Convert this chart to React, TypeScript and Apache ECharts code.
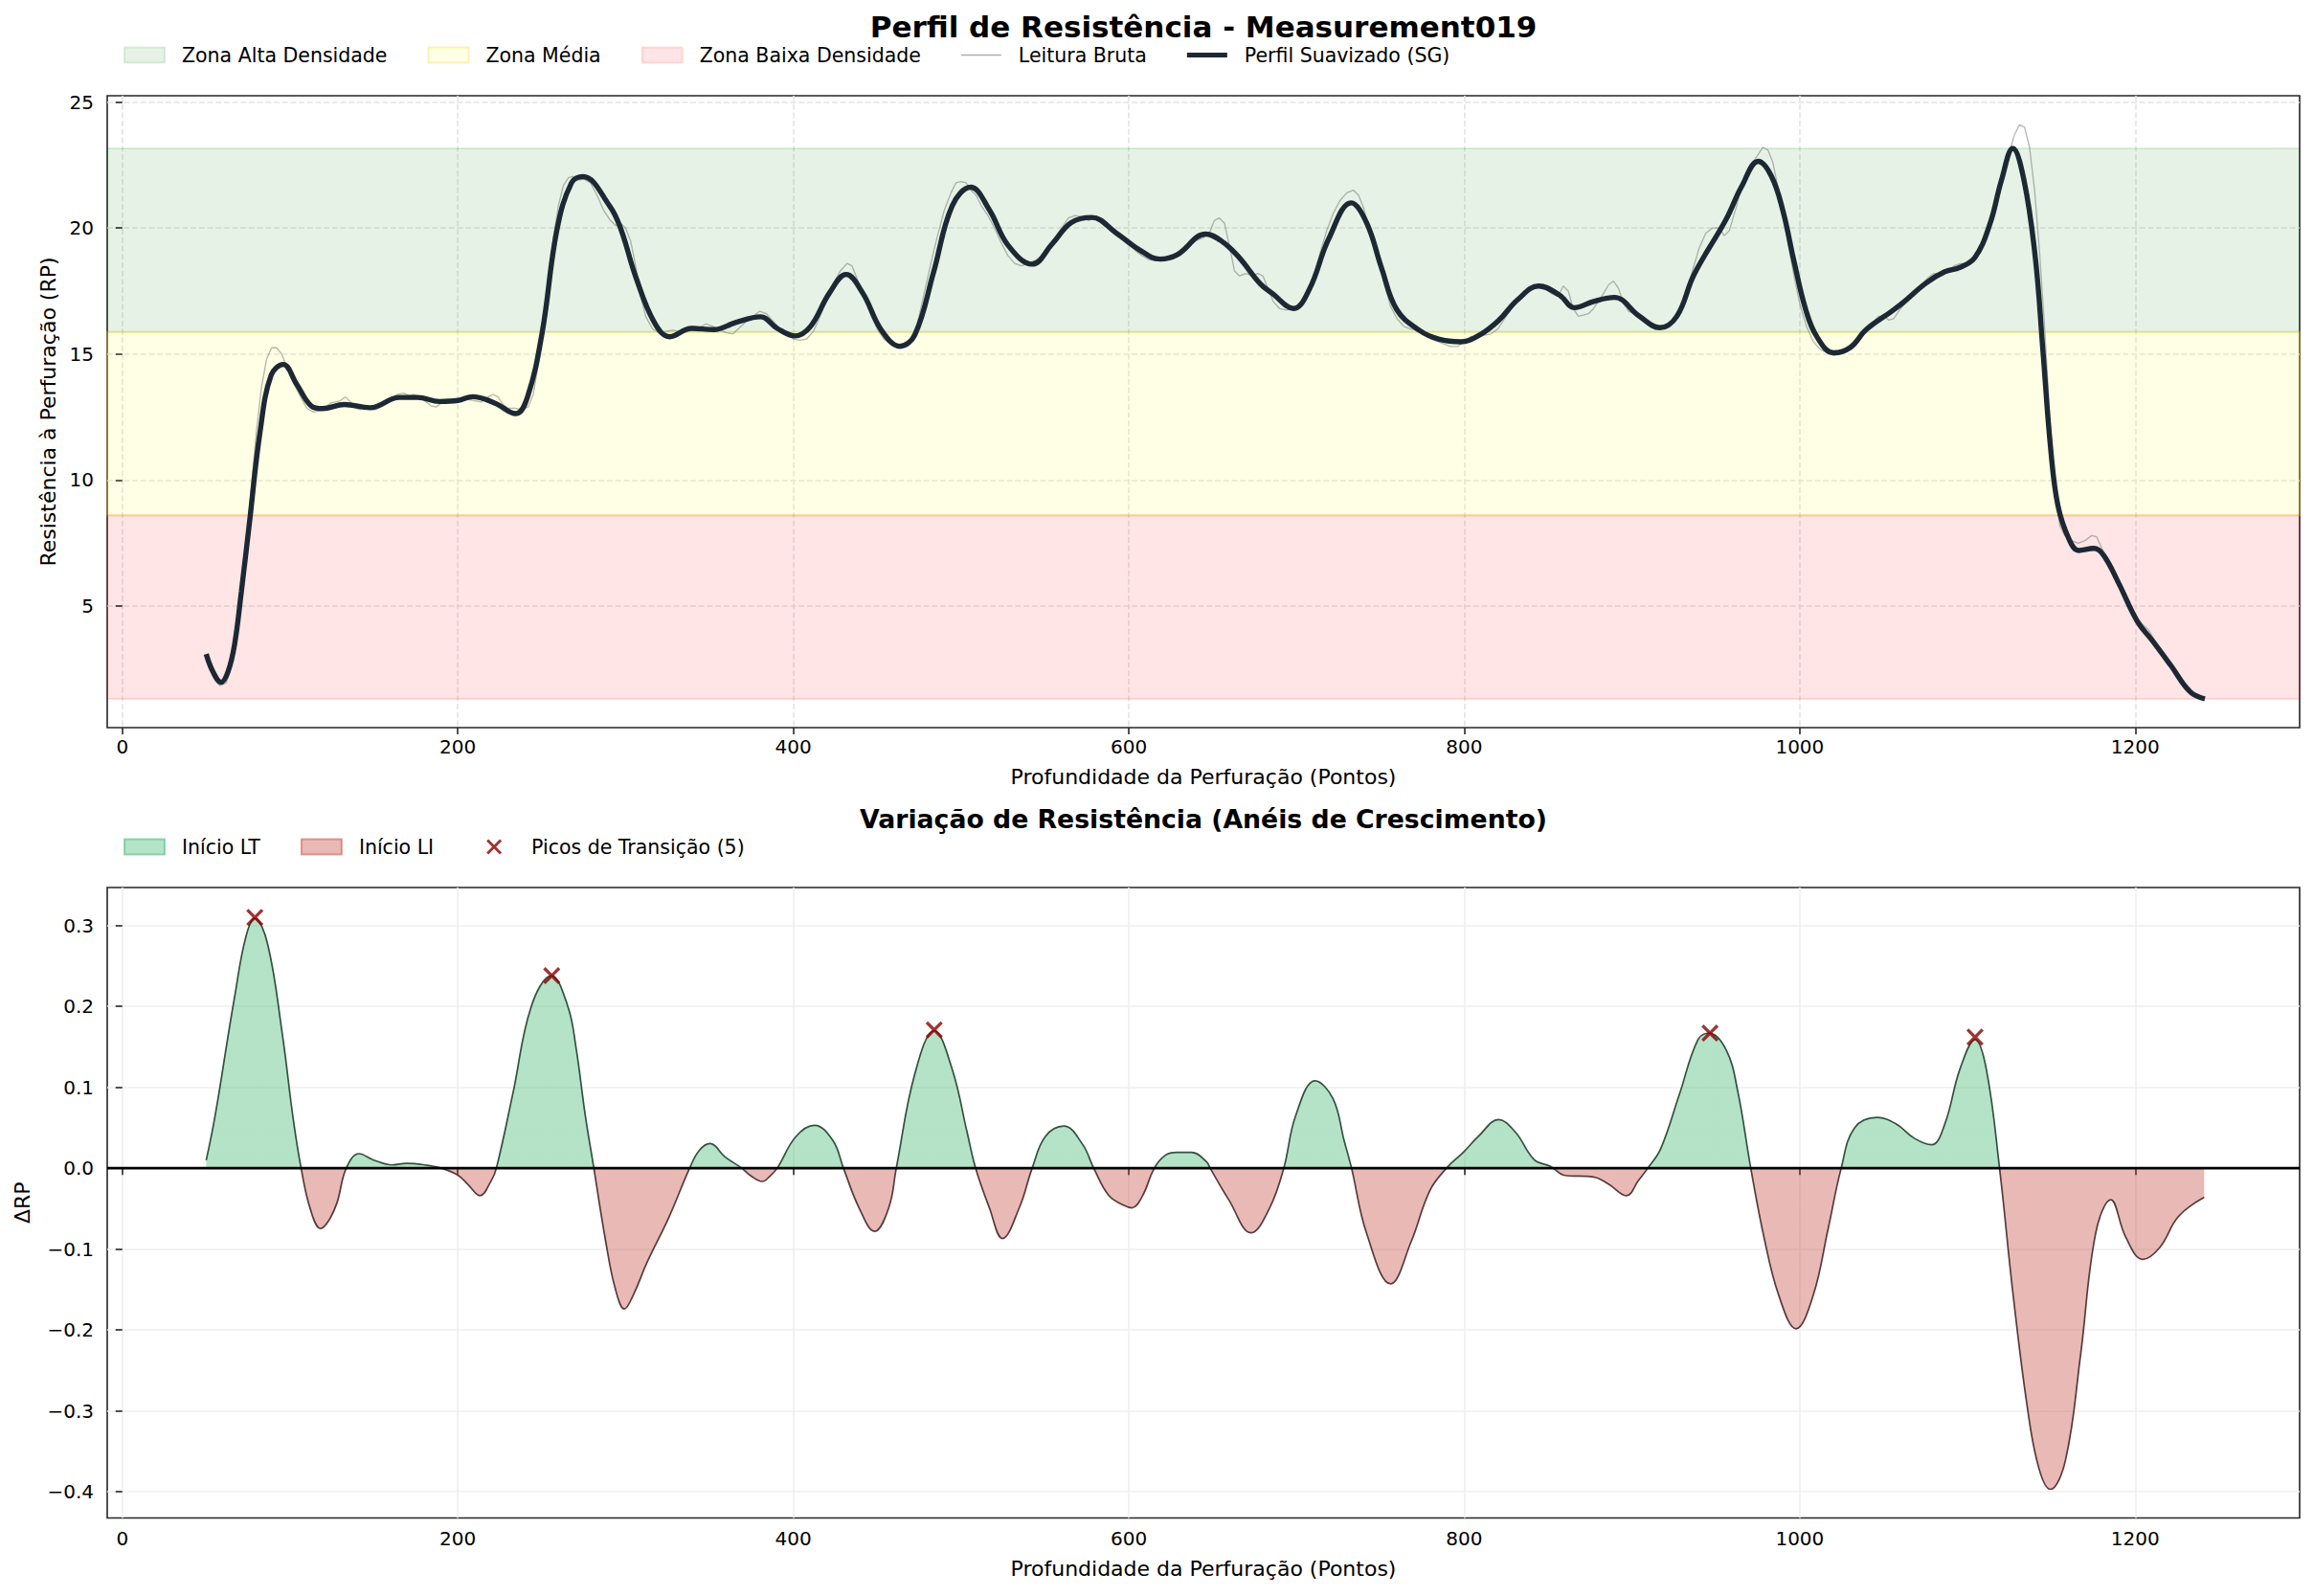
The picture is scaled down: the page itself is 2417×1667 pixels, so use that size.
import React, { useEffect, useRef } from "react";
import * as echarts from "echarts";

// ---------------- data ----------------
const mainTitle = "Perfil de Resistência - Measurement019";
const subTitle = "Variação de Resistência (Anéis de Crescimento)";
const xAxisName = "Profundidade da Perfuração (Pontos)";
const topYAxisName = "Resistência à Perfuração (RP)";
const bottomYAxisName = "ΔRP";

const xTicks = [0, 200, 400, 600, 800, 1000, 1200];
const topYTicks = [5, 10, 15, 20, 25];
const bottomYTicks = [-0.4, -0.3, -0.2, -0.1, 0.0, 0.1, 0.2, 0.3];

// zone boundaries: low / mid / high density
const zoneBounds = [1.32, 8.6, 15.88, 23.16];
const zoneNames = ["Zona Alta Densidade", "Zona Média", "Zona Baixa Densidade"];

const rawReading: [number, number][] = [
  [50, 3.0], [54, 2.2], [58, 1.85], [62, 1.95], [65, 2.6], [68, 3.6], [71, 5.2], [74, 7.4], [77, 9.8],
  [80, 12.0], [83, 13.7], [86, 14.8], [89, 15.25], [92, 15.25], [95, 15.0], [98, 14.5], [101, 14.0],
  [104, 13.6], [107, 13.2], [110, 12.85], [114, 12.7], [118, 12.75], [121, 12.9], [124, 13.05],
  [127, 13.1], [130, 13.15], [133, 13.3], [136, 13.1], [139, 12.85], [142, 12.8], [145, 12.9],
  [148, 12.85], [151, 12.8], [154, 12.9], [157, 13.0], [160, 13.1], [164, 13.4], [168, 13.45],
  [171, 13.35], [174, 13.4], [177, 13.3], [180, 13.15], [184, 12.95], [187, 12.9], [190, 13.05],
  [194, 13.2], [198, 13.15], [202, 13.25], [206, 13.2], [210, 13.15], [214, 13.1], [218, 13.3],
  [221, 13.4], [224, 13.3], [227, 13.0], [230, 12.85], [234, 12.85], [238, 12.8], [242, 12.9],
  [245, 13.4], [248, 14.6], [251, 16.0], [254, 17.8], [257, 19.6], [260, 20.9], [263, 21.7],
  [266, 22.0], [269, 22.05], [272, 21.9], [275, 21.95], [279, 21.8], [283, 21.3], [287, 20.7],
  [291, 20.3], [294, 20.1], [297, 20.2], [300, 20.0], [303, 19.5], [306, 18.5], [309, 17.3],
  [312, 16.5], [316, 16.0], [320, 15.85], [324, 15.9], [328, 15.95], [332, 15.9], [336, 16.0],
  [340, 16.1], [344, 16.05], [348, 16.2], [352, 16.1], [356, 15.95], [360, 15.85], [364, 15.8],
  [368, 16.05], [372, 16.3], [376, 16.5], [380, 16.7], [384, 16.6], [388, 16.3], [392, 16.0],
  [396, 15.85], [400, 15.6], [404, 15.55], [408, 15.6], [412, 15.9], [416, 16.5], [420, 17.2],
  [424, 17.8], [428, 18.3], [432, 18.6], [435, 18.5], [438, 18.0], [442, 17.3], [446, 16.6],
  [450, 16.0], [454, 15.6], [458, 15.4], [462, 15.35], [466, 15.4], [470, 15.6], [474, 16.2],
  [478, 17.4], [482, 18.6], [486, 19.7], [490, 20.7], [494, 21.4], [497, 21.8], [500, 21.85],
  [503, 21.8], [506, 21.5], [509, 21.3], [512, 20.9], [516, 20.5], [520, 20.0], [524, 19.4],
  [528, 18.9], [532, 18.6], [536, 18.5], [540, 18.6], [544, 18.7], [548, 18.9], [552, 19.3],
  [556, 19.6], [560, 20.0], [564, 20.4], [568, 20.5], [572, 20.45], [576, 20.3], [580, 20.45],
  [584, 20.3], [588, 20.1], [592, 19.9], [596, 19.6], [600, 19.4], [604, 19.1], [608, 18.9],
  [612, 18.75], [616, 18.7], [620, 18.7], [624, 18.8], [628, 18.85], [632, 19.0], [636, 19.3],
  [640, 19.5], [644, 19.6], [648, 19.8], [651, 20.3], [654, 20.4], [657, 20.2], [660, 19.3],
  [663, 18.3], [666, 18.1], [670, 18.2], [674, 18.1], [677, 18.2], [680, 18.1], [683, 17.6],
  [686, 17.1], [690, 16.8], [694, 16.75], [698, 16.8], [702, 16.9], [706, 17.2], [710, 18.0],
  [714, 19.0], [718, 19.9], [722, 20.6], [726, 21.1], [730, 21.4], [734, 21.5], [737, 21.3],
  [740, 20.8], [744, 19.8], [748, 18.9], [752, 17.9], [756, 16.9], [760, 16.4], [764, 16.1],
  [768, 16.0], [772, 15.95], [776, 15.8], [780, 15.6], [784, 15.5], [788, 15.4], [792, 15.3],
  [796, 15.3], [800, 15.5], [804, 15.7], [808, 15.7], [812, 15.75], [816, 15.8], [820, 16.0],
  [824, 16.4], [828, 16.8], [832, 17.2], [836, 17.5], [840, 17.7], [844, 17.75], [848, 17.6],
  [852, 17.4], [856, 17.3], [859, 17.7], [862, 17.5], [865, 16.8], [868, 16.5], [871, 16.55],
  [874, 16.6], [877, 16.8], [880, 17.1], [883, 17.4], [886, 17.75], [889, 17.9], [892, 17.6],
  [895, 17.0], [898, 16.7], [901, 16.6], [904, 16.55], [908, 16.4], [912, 16.2], [916, 16.0],
  [920, 16.0], [924, 16.2], [928, 16.5], [932, 17.3], [936, 18.3], [940, 19.2], [944, 19.8],
  [948, 20.0], [952, 20.0], [955, 19.7], [958, 19.9], [962, 20.8], [966, 21.8], [970, 22.4],
  [974, 22.8], [978, 23.2], [981, 23.1], [984, 22.6], [987, 21.6], [990, 20.5], [993, 19.4],
  [996, 18.3], [1000, 17.0], [1004, 16.1], [1008, 15.5], [1012, 15.2], [1016, 15.05], [1020, 14.95],
  [1024, 15.0], [1028, 15.2], [1032, 15.5], [1036, 15.8], [1040, 16.1], [1044, 16.3], [1047, 16.5],
  [1050, 16.5], [1053, 16.35], [1056, 16.4], [1060, 16.8], [1064, 17.1], [1068, 17.4], [1072, 17.7],
  [1076, 18.0], [1080, 18.2], [1084, 18.2], [1088, 18.3], [1092, 18.5], [1096, 18.6], [1100, 18.55],
  [1104, 18.7], [1108, 19.2], [1112, 20.0], [1116, 20.9], [1120, 21.8], [1124, 22.8], [1128, 23.7],
  [1131, 24.1], [1134, 24.0], [1137, 23.2], [1140, 21.5], [1143, 19.0], [1146, 16.0], [1149, 12.6],
  [1152, 9.8], [1155, 8.2], [1158, 7.8], [1162, 7.6], [1166, 7.5], [1170, 7.6], [1174, 7.8],
  [1177, 7.75], [1180, 7.3], [1184, 6.7], [1188, 6.1], [1192, 5.5], [1196, 5.0], [1200, 4.6],
  [1204, 4.3], [1208, 4.05], [1212, 3.6], [1216, 3.2], [1220, 2.8], [1224, 2.4], [1228, 2.0],
  [1232, 1.7], [1236, 1.5], [1241, 1.35],
];

const smoothProfile: [number, number][] = [
  [50, 3.1], [54, 2.4], [58.8, 1.98], [63, 2.4], [66.9, 3.47], [71, 5.6], [75.6, 8.2], [82.2, 11.96],
  [88.7, 14.16], [95.9, 14.59], [104, 13.8], [112.7, 12.94], [119.3, 12.84], [132.4, 13.0],
  [147.7, 12.87], [165.1, 13.28], [176.1, 13.28], [189.1, 13.12], [200, 13.16], [208.8, 13.31],
  [221.9, 13.06], [234.6, 12.64], [241.6, 13.31], [250.3, 15.86], [259.1, 19.93], [267.8, 21.8],
  [274.5, 22.04], [290.5, 20.88], [297.1, 19.98], [306, 18.08], [317.1, 16.26], [326.4, 15.69],
  [339.3, 16.02], [352.6, 15.97], [366, 16.26], [380.4, 16.48], [390.4, 16.02], [401, 15.72],
  [410.3, 16.1], [421.5, 17.42], [431.5, 18.16], [441.4, 17.42], [452.6, 15.94], [463.6, 15.31],
  [472.5, 15.77], [483.6, 18.24], [494.7, 20.88], [505.8, 21.62], [516.9, 20.72], [528, 19.32],
  [542.4, 18.57], [554.7, 19.4], [565.7, 20.22], [577.9, 20.42], [592.4, 19.81], [606, 19.15],
  [618.7, 18.77], [628.8, 18.94], [645.8, 19.76], [655, 19.5], [664.9, 18.9], [678.5, 17.78],
  [685.3, 17.42], [698.3, 16.81], [707.8, 17.59], [719.1, 19.56], [732.6, 21.0], [741.7, 20.22],
  [750.7, 18.41], [759.8, 16.76], [773.3, 15.94], [784.6, 15.6], [797.7, 15.49], [809.4, 15.77],
  [820.7, 16.35], [832, 17.17], [844.4, 17.7], [856.8, 17.34], [865.8, 16.84], [877.1, 17.09],
  [889.5, 17.25], [904.2, 16.51], [916.6, 16.05], [926.8, 16.51], [937, 18.16], [956.2, 20.36],
  [965.2, 21.63], [975.3, 22.65], [983.1, 22.06], [989.9, 20.7], [996.6, 18.67], [1003.4, 16.8],
  [1010.1, 15.7], [1020.2, 15.05], [1030.3, 15.27], [1039.3, 15.95], [1055, 16.71], [1061.7, 17.05],
  [1075.3, 17.82], [1086.5, 18.27], [1095.5, 18.44], [1104.5, 18.84], [1113.5, 20.19],
  [1120.2, 21.89], [1127, 23.16], [1133.7, 21.89], [1140.4, 18.84], [1145, 15.1], [1149.4, 11.37],
  [1153.9, 8.99], [1160.7, 7.63], [1166.3, 7.21], [1175.3, 7.29], [1180.9, 7.04], [1189.9, 5.94],
  [1201.1, 4.41], [1210.1, 3.64], [1221.4, 2.63], [1232.6, 1.61], [1241.5, 1.32],
];

const deltaRP: [number, number][] = [
  [50, 0.0098], [54, 0.05], [58.1, 0.099], [62, 0.15], [66.8, 0.21], [73.4, 0.284], [78.9, 0.309],
  [86.5, 0.278], [95.3, 0.167], [101.8, 0.062], [106.6, 0], [112, -0.05], [118.2, -0.0746],
  [123, -0.065], [128, -0.0426], [133.5, 0], [141.1, 0.0179], [149.9, 0.01], [160.8, 0.004],
  [169.5, 0.006], [180.4, 0.004], [190.3, 0], [200.1, -0.0087], [206, -0.02], [213.2, -0.034],
  [219.8, -0.016], [223, 0], [232.9, 0.093], [243.8, 0.2], [255.8, 0.238], [265.6, 0.2],
  [270.5, 0.1485], [276, 0.065], [281.1, 0], [288.2, -0.091], [294, -0.15], [299.3, -0.174],
  [305, -0.155], [312.7, -0.117], [326, -0.06], [338.2, 0], [344, 0.022], [350.4, 0.0304],
  [359.3, 0.014], [369.3, 0], [375, -0.01], [381.5, -0.0164], [386, -0.01], [390.4, 0],
  [401.5, 0.039], [412.6, 0.053], [423.7, 0.0338], [429.9, 0], [439.2, -0.049], [448.5, -0.078],
  [456.9, -0.049], [461.4, 0], [472.5, 0.117], [484, 0.17], [494.7, 0.1225], [503.6, 0.0445],
  [508.7, 0], [516.9, -0.049], [524.7, -0.087], [534.7, -0.049], [542.4, 0], [550.2, 0.039],
  [561.3, 0.052], [572.4, 0.0296], [579.1, 0], [588, -0.0336], [596.9, -0.0458], [601.8, -0.049],
  [608, -0.035], [615.2, 0], [621.8, 0.016], [628.5, 0.0196], [637.4, 0.0196], [646.3, 0.008],
  [648.5, 0], [659.6, -0.039], [672.9, -0.08], [684, -0.049], [692.4, 0], [699.5, 0.065],
  [711.1, 0.108], [721.7, 0.086], [728.4, 0.034], [732.8, 0], [741.7, -0.08], [756.1, -0.143],
  [768.3, -0.091], [779.4, -0.028], [789.4, 0], [799.4, 0.0196], [808.3, 0.039], [820.5, 0.06],
  [830.5, 0.0445], [841.6, 0.0106], [850.5, 0.003], [853, 0], [859.4, -0.0087], [877.1, -0.011],
  [886, -0.0197], [896.7, -0.034], [903.8, -0.0153], [909.4, 0], [917.1, 0.024], [928.2, 0.091],
  [939.3, 0.159], [946, 0.167], [956.2, 0.146], [962.9, 0.0965], [970.8, 0], [978.7, -0.0856],
  [987.6, -0.158], [997.8, -0.1985], [1007.9, -0.158], [1016.9, -0.075], [1024.7, 0],
  [1032.6, 0.0497], [1046.1, 0.0627], [1057.3, 0.0548], [1068.5, 0.0367], [1078.6, 0.0289],
  [1086.5, 0.0548], [1095.5, 0.1225], [1104.5, 0.159], [1111.2, 0.1225], [1119.1, 0],
  [1127, -0.153], [1135.9, -0.299], [1142.7, -0.372], [1149.4, -0.397], [1158.4, -0.361],
  [1167.4, -0.231], [1176.4, -0.0804], [1185.4, -0.039], [1194.4, -0.0856], [1204.5, -0.1127],
  [1214.6, -0.098], [1225.8, -0.0596], [1241.1, -0.036],
];

const transitionPeaks: [number, number][] = [
  [79, 0.31], [256, 0.238], [484, 0.171], [946.5, 0.167], [1104.5, 0.162],
];

// ---------------- styling ----------------
const FONT = "DejaVu Sans";
const X_RANGE = [-9, 1298];
const TOP_Y_RANGE = [0.18, 25.25];
const BOT_Y_RANGE = [-0.4325, 0.347];
const SPINE = "#262626";
const RAW_COLOR = "rgba(110,110,110,0.5)";
const SG_COLOR = "#1c2833";
const X_MARK =
  "path://M0,1.3L1.3,0L5,3.7L8.7,0L10,1.3L6.3,5L10,8.7L8.7,10L5,6.3L1.3,10L0,8.7L3.7,5Z";
// same cross, centred in a 42x16 legend handle box (the leading moves fix the box size)
const X_MARK_LEGEND =
  "path://M0,0M42,16M13,2.08L15.08,0L21,5.92L26.92,0L29,2.08L23.08,8L29,13.92L26.92,16L21,10.08L15.08,16L13,13.92L18.92,8Z";

const fmtDelta = (v: number) => {
  const s = Math.abs(v) < 1e-9 ? "0.0" : v.toFixed(1);
  return s.replace("-", "\u2212");
};

function buildOption() {
  const zoneColors = ["rgba(0,128,0,0.1)", "rgba(255,255,0,0.1)", "rgba(255,0,0,0.1)"];
  const zoneEdges = ["rgba(0,128,0,0.12)", "rgba(255,200,0,0.28)", "rgba(255,0,0,0.12)"];
  const zoneRanges = [
    [zoneBounds[2], zoneBounds[3]],
    [zoneBounds[1], zoneBounds[2]],
    [zoneBounds[0], zoneBounds[1]],
  ];

  const axisLabelBase = { fontSize: 20, color: "#000", fontFamily: FONT };
  const axisTickBase = { show: true, length: 7, lineStyle: { color: SPINE, width: 1.6 } };
  const nameStyle = { fontSize: 22, color: "#000", fontFamily: FONT };
  const legendText = { fontSize: 20.5, color: "#000", fontFamily: FONT, padding: [0, 0, 0, 13] };
  const legendBase = {
    left: 124,
    orient: "horizontal",
    itemWidth: 42,
    itemHeight: 16,
    itemGap: 42,
    selectedMode: false,
    symbolKeepAspect: true,
    textStyle: legendText,
  };

  return {
    animation: false,
    backgroundColor: "#fff",
    textStyle: { fontFamily: FONT },
    graphic: [
      {
        type: "text",
        x: 1257,
        y: 28,
        style: {
          text: mainTitle,
          font: `bold 31px "${FONT}"`,
          fill: "#000",
          align: "center",
          verticalAlign: "middle",
          textAlign: "center",
          textVerticalAlign: "middle",
        },
      },
      {
        type: "text",
        x: 1257,
        y: 855,
        style: {
          text: subTitle,
          font: `bold 26.7px "${FONT}"`,
          fill: "#000",
          align: "center",
          verticalAlign: "middle",
          textAlign: "center",
          textVerticalAlign: "middle",
        },
      },
    ],
    legend: [
      {
        ...legendBase,
        top: 42,
        data: [
          ...zoneNames.map((n, i) => ({
            name: n,
            icon: "rect",
            itemStyle: { color: zoneColors[i], borderColor: zoneEdges[i], borderWidth: 2 },
          })),
          {
            name: "Leitura Bruta",
            icon: "path://M0,0H42V1.5H0Z",
            itemStyle: { color: "rgba(110,110,110,0.55)", borderWidth: 0 },
          },
          {
            name: "Perfil Suavizado (SG)",
            icon: "path://M0,0H42V5.2H0Z",
            itemStyle: { color: SG_COLOR, borderWidth: 0 },
          },
        ],
      },
      {
        ...legendBase,
        top: 869,
        data: [
          {
            name: "Início LT",
            icon: "rect",
            itemStyle: { color: "rgba(39,174,96,0.35)", borderColor: "rgba(39,174,96,0.45)", borderWidth: 2 },
          },
          {
            name: "Início LI",
            icon: "rect",
            itemStyle: { color: "rgba(192,57,43,0.35)", borderColor: "rgba(192,57,43,0.45)", borderWidth: 2 },
          },
          {
            name: "Picos de Transição (5)",
            icon: X_MARK_LEGEND,
            itemStyle: { color: "#8b0000", borderWidth: 0 },
          },
        ],
      },
    ],
    grid: [
      { left: 112, top: 100, width: 2290, height: 660, show: true, borderColor: SPINE, borderWidth: 1.6, backgroundColor: "transparent" },
      { left: 112, top: 927, width: 2290, height: 658.5, show: true, borderColor: SPINE, borderWidth: 1.6, backgroundColor: "transparent" },
    ],
    xAxis: [
      {
        type: "value",
        gridIndex: 0,
        min: X_RANGE[0],
        max: X_RANGE[1],
        axisLine: { show: false },
        axisTick: { ...axisTickBase, customValues: xTicks },
        axisLabel: { ...axisLabelBase, margin: 10, customValues: xTicks, formatter: (v: number) => String(v) },
        splitLine: { show: true, lineStyle: { color: "#e4e4e4", width: 1.6, type: [6, 2.7] } },
        name: xAxisName,
        nameLocation: "middle",
        nameGap: 40,
        nameTextStyle: nameStyle,
      },
      {
        type: "value",
        gridIndex: 1,
        min: X_RANGE[0],
        max: X_RANGE[1],
        axisLine: { show: false },
        axisTick: { ...axisTickBase, customValues: xTicks },
        axisLabel: { ...axisLabelBase, margin: 11, customValues: xTicks, formatter: (v: number) => String(v) },
        splitLine: { show: true, lineStyle: { color: "#efefef", width: 1.6, type: "solid" } },
        name: xAxisName,
        nameLocation: "middle",
        nameGap: 42,
        nameTextStyle: nameStyle,
      },
    ],
    yAxis: [
      {
        type: "value",
        gridIndex: 0,
        min: TOP_Y_RANGE[0],
        max: TOP_Y_RANGE[1],
        axisLine: { show: false },
        axisTick: { ...axisTickBase, customValues: topYTicks },
        axisLabel: { ...axisLabelBase, margin: 14, customValues: topYTicks },
        splitLine: { show: true, lineStyle: { color: "#e4e4e4", width: 1.6, type: [6, 2.7] } },
        name: topYAxisName,
        nameLocation: "middle",
        nameGap: 50,
        nameTextStyle: nameStyle,
      },
      {
        type: "value",
        gridIndex: 1,
        min: BOT_Y_RANGE[0],
        max: BOT_Y_RANGE[1],
        axisLine: { show: false },
        axisTick: { ...axisTickBase, customValues: bottomYTicks },
        axisLabel: { ...axisLabelBase, margin: 14, customValues: bottomYTicks, formatter: (v: number) => fmtDelta(v) },
        splitLine: { show: true, lineStyle: { color: "#efefef", width: 1.6, type: "solid" } },
        name: bottomYAxisName,
        nameLocation: "middle",
        nameGap: 78,
        nameTextStyle: nameStyle,
      },
    ],
    visualMap: [
      {
        type: "piecewise",
        show: false,
        seriesIndex: 7,
        dimension: 1,
        pieces: [
          { gte: -10, lte: 0, color: "#c0392b" },
          { gt: 0, lte: 10, color: "#27ae60" },
        ],
      },
      {
        type: "piecewise",
        show: false,
        seriesIndex: 8,
        dimension: 1,
        pieces: [
          { gte: -10, lte: 0, color: "#573a3a" },
          { gt: 0, lte: 10, color: "#34503f" },
        ],
      },
    ],
    series: [
      ...zoneNames.map((n, i) => ({
        name: n,
        type: "line",
        xAxisIndex: 0,
        yAxisIndex: 0,
        data: [],
        itemStyle: { color: zoneColors[i] },
      })),
      {
        name: "Leitura Bruta",
        type: "line",
        xAxisIndex: 0,
        yAxisIndex: 0,
        data: rawReading,
        symbol: "none",
        z: 3,
        lineStyle: { color: RAW_COLOR, width: 1.3 },
        itemStyle: { color: RAW_COLOR },
        markArea: {
          silent: true,
          data: zoneRanges.map((r, i) => [
            { yAxis: r[0], itemStyle: { color: zoneColors[i], borderColor: zoneEdges[i], borderWidth: 2 } },
            { yAxis: r[1] },
          ]),
        },
      },
      {
        name: "Perfil Suavizado (SG)",
        type: "line",
        xAxisIndex: 0,
        yAxisIndex: 0,
        data: smoothProfile,
        symbol: "none",
        smooth: 0.4,
        z: 4,
        lineStyle: { color: SG_COLOR, width: 5.4 },
        itemStyle: { color: SG_COLOR },
      },
      { name: "Início LT", type: "line", xAxisIndex: 1, yAxisIndex: 1, data: [], itemStyle: { color: "rgba(39,174,96,0.35)" } },
      { name: "Início LI", type: "line", xAxisIndex: 1, yAxisIndex: 1, data: [], itemStyle: { color: "rgba(192,57,43,0.35)" } },
      {
        name: "ΔRP área",
        type: "line",
        xAxisIndex: 1,
        yAxisIndex: 1,
        data: deltaRP,
        symbol: "none",
        smooth: 0.4,
        z: 2,
        lineStyle: { width: 0, opacity: 0 },
        areaStyle: { opacity: 0.35 },
      },
      {
        name: "ΔRP linha",
        type: "line",
        xAxisIndex: 1,
        yAxisIndex: 1,
        data: deltaRP,
        symbol: "none",
        smooth: 0.4,
        z: 3,
        lineStyle: { width: 1.7 },
      },
      {
        name: "zero",
        type: "line",
        xAxisIndex: 1,
        yAxisIndex: 1,
        data: [
          [X_RANGE[0], 0],
          [X_RANGE[1], 0],
        ],
        symbol: "none",
        z: 5,
        silent: true,
        lineStyle: { color: "#000", width: 2.6 },
        itemStyle: { color: "#000" },
      },
      {
        name: "Picos de Transição (5)",
        type: "scatter",
        xAxisIndex: 1,
        yAxisIndex: 1,
        data: transitionPeaks,
        symbol: X_MARK,
        symbolSize: 18,
        z: 6,
        itemStyle: { color: "#8b0000" },
      },
    ],
  };
}

export default function App() {
  const ref = useRef<HTMLDivElement>(null);
  useEffect(() => {
    if (!ref.current) return;
    const chart = echarts.init(ref.current, null, { renderer: "svg" });
    chart.setOption(buildOption() as any);
    return () => chart.dispose();
  }, []);
  return (
    <div
      ref={ref}
      style={{ position: "absolute", left: 0, top: 0, width: 2417, height: 1667, background: "#fff" }}
    />
  );
}
